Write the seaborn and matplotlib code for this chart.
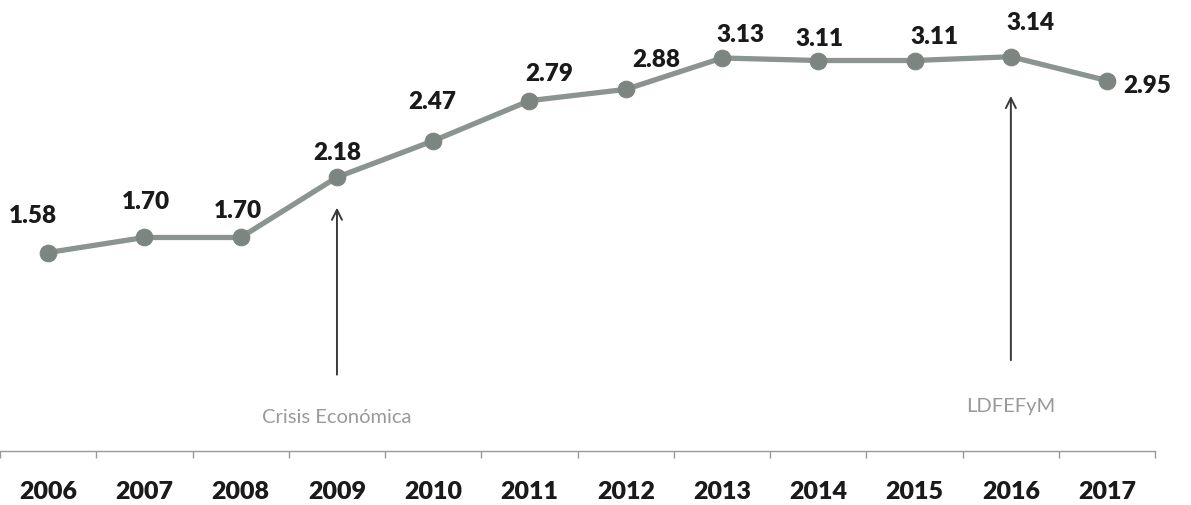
import seaborn as sns
import numpy as np
import matplotlib.pyplot as plt
import pandas as pd

# values
years = ['2006', '2007', '2008', '2009', '2010', '2011', '2012', '2013', '2014', '2015', '2016', '2017']
values = [1.58, 1.70, 1.70, 2.18, 2.47, 2.79, 2.88, 3.13, 3.11, 3.11, 3.14, 2.95]
labels = ['1.58', '1.70', '1.70', '2.18', '2.47', '2.79', '2.88', '3.13', '3.11', '3.11', '3.14', '2.95']
events = ['Crisis Económica', 'LDFEFyM']
event_years = ['2009', '2016']

# label offsets in points (dx, dy) from each marker
label_offsets = [(-11, 27), (1, 26), (-2, 20), (0, 18), (-1, 29), (14, 20),
                 (22, 22), (13, 17), (1, 16), (14, 18), (14, 25), (29, -3)]

df = pd.DataFrame({'year': years, 'value': values})
df['pos'] = np.arange(len(df))

sns.set_theme(style='white')
plt.rcParams['font.family'] = ['Lato', 'DejaVu Sans']

fig = plt.figure(figsize=(11.91, 5.06), dpi=100)
ax = fig.add_axes([0.0, 0.107, 0.970, 0.893])

line_col = '#8c9490'
sns.lineplot(data=df, x='pos', y='value', ax=ax, color=line_col, linewidth=3.8,
             marker='o', markersize=12, markerfacecolor='#7d8581',
             markeredgecolor='#7d8581')

for i, (v, lab) in enumerate(zip(values, labels)):
    dx, dy = label_offsets[i]
    ax.annotate(lab, (i, v), xytext=(dx, dy), textcoords='offset points',
                ha='center', va='center', fontsize=17.5, fontweight='heavy',
                color='#1a1a1a')

# event arrows
arrow_spans = [(0.585, 1.96), (0.70, 2.85)]
text_y = [0.27, 0.36]
for ev, yr, (y0, y1), ty in zip(events, event_years, arrow_spans, text_y):
    x = years.index(yr)
    ax.annotate('', xy=(x, y1), xytext=(x, y0),
                arrowprops=dict(arrowstyle='->', color='#3a3a3a', lw=1.4,
                                mutation_scale=18))
    ax.text(x, ty, ev, ha='center', va='center', fontsize=14.5, color='#999999')

ax.set_xlim(-0.5, len(years) - 0.5)
ax.set_ylim(0, 3.6)
ax.set_xticks(np.arange(len(years)))
ax.set_xticklabels(years, fontsize=18, fontweight='heavy', color='#1a1a1a')
ax.set_xticks(np.arange(-0.5, len(years)), minor=True)
ax.tick_params(axis='x', which='major', length=0, pad=21)
ax.tick_params(axis='x', which='minor', length=5, color='#999999', width=1,
               direction='out', bottom=True)
ax.set_yticks([])
ax.set_xlabel('')
ax.set_ylabel('')
for s in ['top', 'left', 'right']:
    ax.spines[s].set_visible(False)
ax.spines['bottom'].set_color('#999999')
ax.spines['bottom'].set_linewidth(1)

fig.savefig('out.png', dpi=100, facecolor='white')
